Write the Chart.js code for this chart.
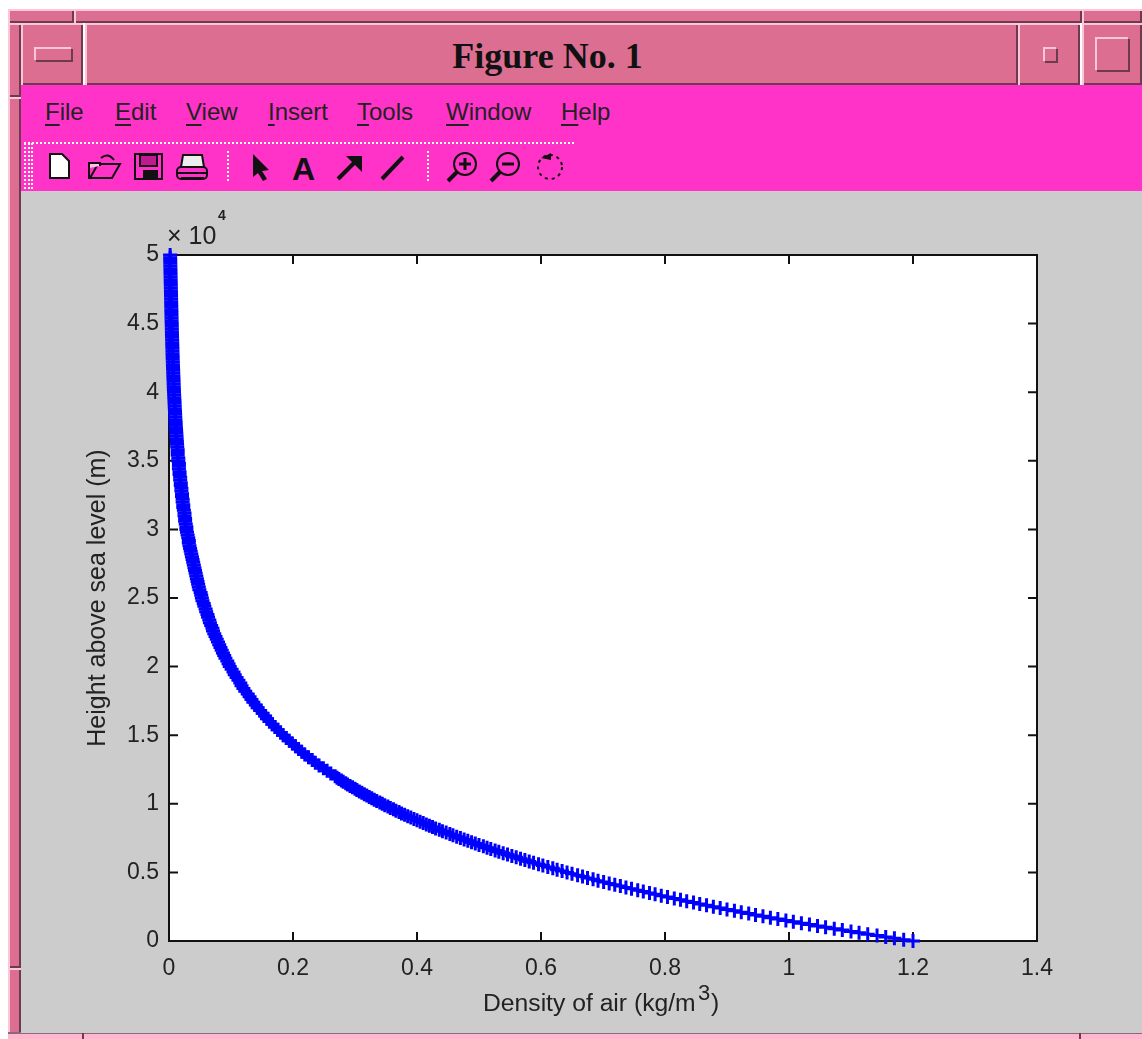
<!DOCTYPE html>
<html>
<head>
<meta charset="utf-8">
<title>Figure No. 1</title>
<script src="https://cdn.jsdelivr.net/npm/chart.js@4"></script>
<style>
  html, body { margin: 0; padding: 0; background: #fff; }
  body { width: 1142px; height: 1039px; position: relative; overflow: hidden; font-family: "Liberation Sans", sans-serif; color: #222; }
  .abs { position: absolute; box-sizing: border-box; }
  .frame { background: #dc6f91; box-shadow: inset 2px 2px 0 #ffc6da, inset -2px -2px 0 #6e3a50; }
  .flat { background: #dc6f91; box-shadow: inset 2px 2px 0 #ffc6da, inset -2px -2px 0 #6e3a50; }
  .glyph { box-shadow: 2px 2px 0 -0px #6e3a50, inset 2px 2px 0 #ffc6da; }
  #title { left: 85px; top: 23px; width: 933px; height: 62px; text-align: center; font: bold 36px/66px "Liberation Serif", serif; color: #111; padding-right: 8px; }
  #menu { left: 21px; top: 85px; width: 1121px; height: 106px; background: #ff33c7; }
  .mi { position: absolute; top: 97px; font-size: 24px; line-height: 30px; color: #222; }
  .mi u { text-underline-offset: 4px; text-decoration-thickness: 2px; }
  #gray { left: 21px; top: 191px; width: 1121px; height: 842px; background: #cccccc; }
  #plot { position: absolute; left: 21px; top: 191px; }
  .txt { position: absolute; white-space: nowrap; color: #222; }
</style>
</head>
<body>
<!-- window frame -->
<div class="abs frame" style="left:8px;top:9px;width:66px;height:14px"></div>
<div class="abs frame" style="left:74px;top:9px;width:1008px;height:14px"></div>
<div class="abs frame" style="left:1082px;top:9px;width:60px;height:14px"></div>
<div class="abs frame" style="left:8px;top:23px;width:13px;height:74px"></div>
<div class="abs frame" style="left:8px;top:97px;width:13px;height:871px"></div>
<div class="abs frame" style="left:8px;top:968px;width:13px;height:71px"></div>
<div class="abs" style="left:8px;top:1032px;width:1134px;height:7px;background:#ffb6cf;border-top:2px solid #8a6a78"></div>
<div class="abs" style="left:82px;top:1033px;width:2px;height:6px;background:#6e3a50"></div>
<div class="abs" style="left:1079px;top:1033px;width:2px;height:6px;background:#6e3a50"></div>

<!-- title bar -->
<div class="abs flat" style="left:21px;top:23px;width:62px;height:62px"></div>
<div class="abs glyph" style="left:34px;top:47px;width:37px;height:13px"></div>
<div class="abs flat" id="title">Figure No. 1</div>
<div class="abs flat" style="left:1018px;top:23px;width:62px;height:62px"></div>
<div class="abs glyph" style="left:1043px;top:47px;width:13px;height:14px"></div>
<div class="abs flat" style="left:1082px;top:23px;width:60px;height:62px"></div>
<div class="abs glyph" style="left:1095px;top:37px;width:33px;height:33px"></div>

<!-- menu + toolbar -->
<div class="abs" id="menu"></div>
<span class="mi" style="left:45px"><u>F</u>ile</span>
<span class="mi" style="left:115px"><u>E</u>dit</span>
<span class="mi" style="left:186px"><u>V</u>iew</span>
<span class="mi" style="left:268px"><u>I</u>nsert</span>
<span class="mi" style="left:357px"><u>T</u>ools</span>
<span class="mi" style="left:446px"><u>W</u>indow</span>
<span class="mi" style="left:561px"><u>H</u>elp</span>
<svg class="abs" style="left:21px;top:140px" width="600" height="50" viewBox="21 140 600 50">
  <g fill="none" stroke="#fff" stroke-width="2" stroke-dasharray="2 2">
    <path d="M24 143H575"/><path d="M25 143V189"/><path d="M29 143V189"/><path d="M32 143V189"/>
    <path d="M228 151V181"/><path d="M428 151V181"/>
  </g>
  <!-- new -->
  <path d="M50 154H62L69 161V178H50Z" fill="#fff" stroke="#111" stroke-width="2"/>
  <!-- open -->
  <path d="M89 168V178H112L120 164H98L90 178" fill="#ff33c7" stroke="#111" stroke-width="2"/>
  <path d="M89 168V163H100V166" fill="#ffc0e8" stroke="#111" stroke-width="2"/>
  <path d="M101 158Q108 152 114 160" fill="none" stroke="#111" stroke-width="2"/>
  <!-- save -->
  <rect x="135" y="154" width="27" height="25" fill="#ff33c7" stroke="#111" stroke-width="2"/>
  <rect x="140" y="155" width="17" height="11" fill="#c01a90" stroke="#111" stroke-width="2"/>
  <rect x="143" y="170" width="15" height="9" fill="#111"/>
  <!-- print -->
  <path d="M183 155H202L204 167H181Z" fill="#eee" stroke="#111" stroke-width="2"/>
  <rect x="177" y="167" width="30" height="12" rx="4" fill="#ff33c7" stroke="#111" stroke-width="2"/>
  <path d="M178 173H206M181 178H204" stroke="#111" stroke-width="2"/>
  <!-- select arrow -->
  <path d="M253 154L269 170L262 171L267 179L263 181L258 173L253 177Z" fill="#111"/>
  <!-- text -->
  <text x="292" y="180" font-family="Liberation Sans" font-weight="bold" font-size="32" fill="#111">A</text>
  <!-- arrow -->
  <path d="M338 179L358 159" stroke="#111" stroke-width="4"/>
  <path d="M346 156H362V172Z" fill="#111"/>
  <!-- line -->
  <path d="M382 179L403 157" stroke="#111" stroke-width="4"/>
  <!-- zoom in -->
  <circle cx="465" cy="164" r="11" fill="none" stroke="#111" stroke-width="2"/>
  <path d="M457 172L448 181" stroke="#111" stroke-width="4"/>
  <path d="M459 164H471M465 158V170" stroke="#111" stroke-width="3"/>
  <!-- zoom out -->
  <circle cx="508" cy="164" r="11" fill="none" stroke="#111" stroke-width="2"/>
  <path d="M500 172L491 181" stroke="#111" stroke-width="4"/>
  <path d="M502 164H514" stroke="#111" stroke-width="3"/>
  <!-- rotate -->
  <circle cx="550" cy="167" r="12" fill="none" stroke="#111" stroke-width="2" stroke-dasharray="3 4"/>
  <path d="M541 158L551 153V160Z" fill="#111"/>
</svg>

<div class="abs" id="gray"></div>
<canvas id="plot" width="1121" height="842"></canvas>

<span class="txt" style="left:167px;top:220px;font-size:25px;line-height:30px">&times; 10</span>
<span class="txt" style="left:218px;top:207px;font-size:14px;line-height:16px;font-weight:bold">4</span>
<span class="txt" style="left:483px;top:988px;font-size:24.7px;line-height:30px">Density of air (kg/m</span>
<span class="txt" style="left:698px;top:980px;font-size:22px;line-height:26px">3</span>
<span class="txt" style="left:711px;top:988px;font-size:24.7px;line-height:30px">)</span>

<script>
// height above sea level (m)
const heights = [
  0,100,200,300,400,500,600,700,800,900,
  1000,1100,1200,1300,1400,1500,1600,1700,1800,1900,
  2000,2100,2200,2300,2400,2500,2600,2700,2800,2900,
  3000,3100,3200,3300,3400,3500,3600,3700,3800,3900,
  4000,4100,4200,4300,4400,4500,4600,4700,4800,4900,
  5000,5100,5200,5300,5400,5500,5600,5700,5800,5900,
  6000,6100,6200,6300,6400,6500,6600,6700,6800,6900,
  7000,7100,7200,7300,7400,7500,7600,7700,7800,7900,
  8000,8100,8200,8300,8400,8500,8600,8700,8800,8900,
  9000,9100,9200,9300,9400,9500,9600,9700,9800,9900,
  10000,10100,10200,10300,10400,10500,10600,10700,10800,10900,
  11000,11100,11200,11300,11400,11500,11600,11700,11800,11900,
  12000,12200,12400,12600,12800,13000,13200,13400,13600,13800,
  14000,14200,14400,14600,14800,15000,15200,15400,15600,15800,
  16000,16200,16400,16600,16800,17000,17200,17400,17600,17800,
  18000,18200,18400,18600,18800,19000,19200,19400,19600,19800,
  20000,20200,20400,20600,20800,21000,21200,21400,21600,21800,
  22000,22200,22400,22600,22800,23000,23200,23400,23600,23800,
  24000,24200,24400,24600,24800,25000,25200,25400,25600,25800,
  26000,26200,26400,26600,26800,27000,27200,27400,27600,27800,
  28000,28200,28400,28600,28800,29000,29200,29400,29600,29800,
  30000,30200,30400,30600,30800,31000,31200,31400,31600,31800,
  32000,32200,32400,32600,32800,33000,33200,33400,33600,33800,
  34000,34200,34400,34600,34800,35000,35200,35400,35600,35800,
  36000,36200,36400,36600,36800,37000,37200,37400,37600,37800,
  38000,38200,38400,38600,38800,39000,39200,39400,39600,39800,
  40000,40200,40400,40600,40800,41000,41200,41400,41600,41800,
  42000,42200,42400,42600,42800,43000,43200,43400,43600,43800,
  44000,44200,44400,44600,44800,45000,45200,45400,45600,45800,
  46000,46200,46400,46600,46800,47000,47200,47400,47600,47800,
  48000,48200,48400,48600,48800,49000,49200,49400,49600,49800,
  50000
];

// density of air (kg/m3) at each height
const density = [
  1.200,1.185,1.170,1.156,1.142,1.127,1.113,1.100,1.086,1.073,
  1.059,1.046,1.033,1.020,1.007,.995,.982,.970,.958,.946,
  .935,.923,.912,.900,.889,.878,.867,.856,.846,.835,
  .825,.815,.804,.794,.784,.775,.765,.756,.746,.737,
  .728,.719,.710,.701,.692,.684,.675,.667,.659,.650,
  .642,.634,.626,.619,.611,.603,.596,.588,.581,.574,
  .567,.560,.553,.546,.539,.532,.526,.519,.513,.507,
  .500,.494,.488,.482,.476,.470,.464,.458,.453,.447,
  .441,.436,.430,.425,.420,.415,.410,.405,.400,.395,
  .390,.385,.380,.375,.371,.366,.362,.357,.353,.348,
  .344,.340,.335,.331,.327,.323,.319,.315,.311,.307,
  .303,.300,.296,.292,.288,.285,.281,.278,.274,.271,
  .268,.261,.255,.249,.242,.236,.231,.225,.219,.214,
  .209,.204,.199,.194,.189,.184,.180,.175,.171,.167,
  .162,.158,.155,.151,.147,.143,.140,.136,.133,.130,
  .127,.123,.120,.117,.115,.112,.109,.106,.104,.101,
  .098,.096,.094,.091,.089,.087,.085,.083,.081,.079,
  .077,.075,.073,.071,.070,.068,.066,.065,.063,.062,
  .060,.059,.057,.056,.054,.053,.052,.051,.049,.048,
  .047,.046,.045,.044,.043,.042,.041,.040,.039,.038,
  .037,.036,.035,.034,.033,.032,.032,.031,.030,.029,
  .028,.028,.027,.026,.026,.025,.025,.024,.023,.023,
  .022,.022,.021,.021,.020,.020,.019,.019,.018,.018,
  .017,.017,.016,.016,.016,.015,.015,.014,.014,.014,
  .0133,.0130,.0127,.0124,.0121,.0118,.0115,.0112,.0109,.0107,
  .0104,.0101,.0099,.0097,.0094,.0092,.0090,.0088,.0085,.0083,
  .0081,.0079,.0077,.0075,.0074,.0072,.0070,.0068,.0067,.0065,
  .0063,.0062,.0060,.0059,.0057,.0056,.0055,.0053,.0052,.0051,
  .0049,.0048,.0047,.0046,.0045,.0044,.0042,.0041,.0040,.0039,
  .0038,.0037,.0036,.0035,.0034,.0033,.0032,.0031,.0030,.0029,
  .0028,.0027,.0026,.0025,.0024,.0023,.0022,.0021,.0020,.0019,
  .0018
];

const xTicks = [0, 0.2, 0.4, 0.6, 0.8, 1, 1.2, 1.4];
const yTicks = [0, 0.5, 1, 1.5, 2, 2.5, 3, 3.5, 4, 4.5, 5];

const tickFont = { family: 'Liberation Sans', size: 23 };

// white axes box and MATLAB style inward ticks on all four sides
const axesBox = {
  id: 'axesBox',
  beforeDraw(chart) {
    const { ctx, chartArea: a } = chart;
    ctx.fillStyle = '#fff';
    ctx.fillRect(a.left, a.top, a.right - a.left, a.bottom - a.top);
  },
  beforeDatasetsDraw(chart) {
    const { ctx, chartArea: a, scales } = chart;
    const len = 9;
    ctx.save();
    ctx.strokeStyle = '#111';
    ctx.lineWidth = 2;
    ctx.strokeRect(a.left, a.top, a.right - a.left, a.bottom - a.top);
    ctx.beginPath();
    xTicks.forEach(t => {
      const x = scales.x.getPixelForValue(t);
      ctx.moveTo(x, a.bottom); ctx.lineTo(x, a.bottom - len);
      ctx.moveTo(x, a.top); ctx.lineTo(x, a.top + len);
    });
    yTicks.forEach(t => {
      const y = scales.y.getPixelForValue(t * 10000);
      ctx.moveTo(a.left, y); ctx.lineTo(a.left + len, y);
      ctx.moveTo(a.right, y); ctx.lineTo(a.right - len, y);
    });
    ctx.stroke();
    ctx.restore();
  }
};

new Chart(document.getElementById('plot').getContext('2d'), {
  type: 'scatter',
  data: {
    datasets: [{
      data: heights.map((h, i) => ({ x: density[i], y: h })),
      showLine: true,
      borderColor: '#0000ff',
      borderWidth: 2,
      pointStyle: 'cross',
      pointRadius: 7,
      pointBorderColor: '#0000ff',
      pointBorderWidth: 3,
      clip: false
    }]
  },
  plugins: [axesBox],
  options: {
    responsive: false,
    animation: false,
    devicePixelRatio: 1,
    layout: { padding: { left: 48, top: 64, right: 105, bottom: 32 } },
    plugins: { legend: { display: false }, tooltip: { enabled: false } },
    scales: {
      x: {
        type: 'linear',
        min: 0,
        max: 1.4,
        afterFit: s => { s.height = 60; },
        afterBuildTicks: s => { s.ticks = xTicks.map(v => ({ value: v })); },
        grid: { display: false, drawTicks: false },
        border: { display: false },
        ticks: {
          color: '#222',
          font: tickFont,
          padding: 14,
          maxRotation: 0,
          autoSkip: false,
          callback: v => String(v)
        }
      },
      y: {
        type: 'linear',
        min: 0,
        max: 50000,
        afterFit: s => { s.width = 100; },
        afterBuildTicks: s => { s.ticks = yTicks.map(v => ({ value: v * 10000 })); },
        grid: { display: false, drawTicks: false },
        border: { display: false },
        title: {
          display: true,
          text: 'Height above sea level (m)',
          color: '#222',
          font: { family: 'Liberation Sans', size: 25 },
          padding: { top: 14, bottom: 0 }
        },
        ticks: {
          color: '#222',
          font: tickFont,
          padding: 10,
          autoSkip: false,
          callback: v => String(v / 10000)
        }
      }
    }
  }
});
</script>
</body>
</html>
